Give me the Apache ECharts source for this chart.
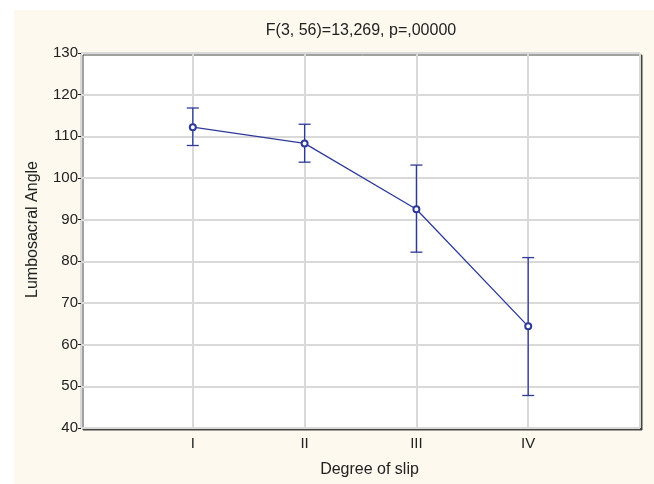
<!DOCTYPE html>
<html>
<head>
<meta charset="utf-8">
<script src="https://cdn.jsdelivr.net/npm/echarts@6/dist/echarts.min.js"></script>
<style>
  html, body { margin: 0; padding: 0; background: #fff; }
  #chart { width: 654px; height: 484px; }
</style>
</head>
<body>
<div id="chart"></div>
<script>
// degree of slip groups (placed at x = 1..4 on a 0..5 axis)
const categories = ['I', 'II', 'III', 'IV']
const means = [112.2, 108.3, 92.5, 64.4]
const lower = [107.8, 103.8, 82.2, 47.8]
const upper = [116.8, 112.9, 103.1, 80.9]

const lineColor = '#2e3a99'
const font = 'Liberation Sans, Arial, sans-serif'

const chart = echarts.init(document.getElementById('chart'))

const meanData = means.map((v, i) => [i + 1, v])
const errData = means.map((v, i) => [i + 1, lower[i], upper[i]])

const renderError = (params, api) => {
  const x = api.value(0)
  const lo = api.coord([x, api.value(1)])
  const hi = api.coord([x, api.value(2)])
  const half = 6
  const style = { stroke: lineColor, lineWidth: 1.3 }
  return {
    type: 'group',
    children: [
      { type: 'line', shape: { x1: lo[0], y1: lo[1], x2: hi[0], y2: hi[1] }, style },
      { type: 'line', shape: { x1: hi[0] - half, y1: hi[1], x2: hi[0] + half, y2: hi[1] }, style },
      { type: 'line', shape: { x1: lo[0] - half, y1: lo[1], x2: lo[0] + half, y2: lo[1] }, style }
    ]
  }
}

chart.setOption({
  backgroundColor: '#ffffff',
  animation: false,
  graphic: [{
    type: 'rect',
    z: -10,
    silent: true,
    shape: { x: 14, y: 10, width: 640, height: 474 },
    style: { fill: '#fdf9ee' }
  }],
  title: {
    text: 'F(3, 56)=13,269, p=,00000',
    left: 356,
    textAlign: 'center',
    top: 18,
    textStyle: { fontFamily: font, fontSize: 16, fontWeight: 'normal', color: '#222' }
  },
  grid: {
    left: 81,
    right: 14,
    top: 53,
    bottom: 56,
    show: true,
    backgroundColor: '#ffffff',
    borderColor: '#222',
    borderWidth: 1,
    shadowColor: '#444',
    shadowBlur: 0,
    shadowOffsetX: 2,
    shadowOffsetY: 2
  },
  xAxis: {
    type: 'value',
    min: 0,
    max: 5,
    interval: 1,
    name: 'Degree of slip',
    nameLocation: 'middle',
    nameGap: 34,
    nameTextStyle: { fontFamily: font, fontSize: 16, color: '#222', padding: [0, 0, 0, 18] },
    axisLine: { show: false },
    axisTick: { show: false },
    axisLabel: {
      margin: 8,
      fontFamily: font,
      fontSize: 15,
      color: '#222',
      formatter: v => categories[v - 1] || ''
    },
    splitLine: { show: true, lineStyle: { color: '#d9d9d9', width: 2 } }
  },
  yAxis: {
    type: 'value',
    min: 40,
    max: 130,
    interval: 10,
    name: 'Lumbosacral Angle',
    nameLocation: 'middle',
    nameGap: 40,
    nameTextStyle: { fontFamily: font, fontSize: 16, color: '#222', padding: [0, 0, 0, 22] },
    axisLine: { show: false },
    axisTick: { show: true, inside: false, length: 3, lineStyle: { color: '#222' } },
    axisLabel: { margin: 3, fontFamily: font, fontSize: 15, color: '#222' },
    splitLine: { show: true, lineStyle: { color: '#d9d9d9', width: 2 } }
  },
  series: [
    {
      type: 'custom',
      renderItem: renderError,
      data: errData,
      z: 3
    },
    {
      type: 'line',
      data: meanData,
      symbol: 'emptyCircle',
      symbolSize: 6,
      lineStyle: { color: lineColor, width: 1.3 },
      itemStyle: { color: lineColor, borderWidth: 1.3 },
      z: 4
    }
  ]
})
</script>
</body>
</html>
